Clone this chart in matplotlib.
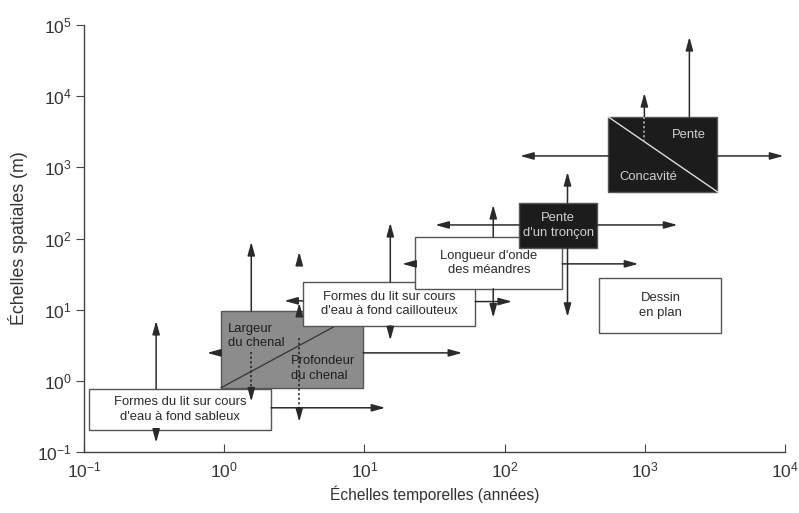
import matplotlib
matplotlib.use("Agg")
import matplotlib.pyplot as plt
from matplotlib.patches import Rectangle

plt.rcParams['font.family'] = ['Liberation Sans', 'DejaVu Sans']
plt.rcParams['mathtext.fontset'] = 'custom'
plt.rcParams['mathtext.rm'] = 'Liberation Sans'
plt.rcParams['mathtext.it'] = 'Liberation Sans:italic'

# boxes: time range (années) and space range (m)
box_labels = ["Formes du lit sur cours\nd'eau à fond sableux", "",
              "Formes du lit sur cours\nd'eau à fond caillouteux",
              "Longueur d'onde\ndes méandres", "Pente\nd'un tronçon", "",
              "Dessin\nen plan"]
box_t_min = [0.109, 0.95, 3.65, 23.1, 127, 550, 474]
box_t_max = [2.16, 9.8, 61.8, 258, 459, 3300, 3520]
box_s_min = [0.204, 0.8, 5.93, 19.6, 73.8, 452, 4.72]
box_s_max = [0.776, 9.6, 24.5, 105, 316, 5100, 28]
box_kind = ["white", "gray", "white", "white", "black", "black", "white"]

# arrows: start (t, s) -> end (t, s)
arr_t0 = [0.327, 0.327, 2.16, 1.56, 1.56, 3.43, 3.43, 3.43, 0.95, 9.8,
          3.65, 15.3, 15.3, 61.8,
          83, 83, 23.1, 258,
          281, 281, 127, 459,
          2080, 993, 550, 3300]
arr_s0 = [0.776, 0.204, 0.418, 9.6, 0.8, 0.32, 10.3, 50, 2.47, 2.47,
          13.3, 24.5, 5.93, 13.0,
          105, 19.6, 44, 44,
          316, 73.8, 155, 155,
          5100, 5100, 1445, 1445]
arr_t1 = [0.327, 0.327, 14.1, 1.56, 1.56, 3.43, 3.43, 3.43, 0.755, 49.9,
          2.68, 15.3, 15.3, 113,
          83, 83, 18.6, 900,
          281, 281, 32, 1710,
          2080, 993, 129, 9750]
arr_s1 = [6.97, 0.135, 0.418, 89.6, 0.51, 0.265, 12.5, 65, 2.47, 2.47,
          13.3, 166, 3.7, 13.0,
          297, 7.7, 44, 44,
          861, 7.9, 155, 155,
          68000, 11100, 1445, 1445]

# dotted links inside boxes
dot_t = [1.56, 3.43, 993]
dot_s0 = [2.55, 4.02, 2290]
dot_s1 = [0.8, 0.32, 5100]

fig = plt.figure(figsize=(7.99, 5.13), dpi=100)
ax = fig.add_axes([84 / 799, 1 - 452 / 513, 701 / 799, 427 / 513])
ax.set_xscale('log')
ax.set_yscale('log')
ax.set_xlim(0.1, 1e4)
ax.set_ylim(0.1, 1e5)

for sp in ['top', 'right']:
    ax.spines[sp].set_visible(False)
for sp in ['left', 'bottom']:
    ax.spines[sp].set_color('#444444')
    ax.spines[sp].set_linewidth(1.0)

ax.minorticks_off()
ax.tick_params(axis='x', direction='in', length=6, labelsize=12.5, pad=6, colors='#444444',
               labelcolor='#333333')
ax.tick_params(axis='y', direction='out', length=6, labelsize=12.5, pad=3, colors='#444444',
               labelcolor='#333333')
ax.set_xlabel("Échelles temporelles (années)", fontsize=11.2, color='#333333', labelpad=4)
ax.set_ylabel("Échelles spatiales (m)", fontsize=12.8, color='#333333', labelpad=6)

face = {"white": "white", "gray": "#8c8c8c", "black": "#1c1c1c"}
tcol = {"white": "#2a2a2a", "gray": "#1e1e1e", "black": "#d0d0d0"}
fs = 9.4

for i in range(len(arr_t0)):
    ax.annotate("", xy=(arr_t1[i], arr_s1[i]), xytext=(arr_t0[i], arr_s0[i]),
                arrowprops=dict(arrowstyle='-|>,head_length=0.8,head_width=0.22',
                                color='#2a2a2a', lw=1.1, shrinkA=0, shrinkB=0),
                zorder=12)

for i in range(len(box_labels)):
    x0, x1 = box_t_min[i], box_t_max[i]
    y0, y1 = box_s_min[i], box_s_max[i]
    k = box_kind[i]
    ax.add_patch(Rectangle((x0, y0), x1 - x0, y1 - y0, facecolor=face[k],
                           edgecolor='#555555', lw=1.0, zorder=3 + i))
    if i == 1:
        ax.plot([x0, x1], [y0, y1], color='#333333', lw=0.9, zorder=3 + i)
    if i == 5:
        ax.plot([x0, x1], [y1, y0], color='#dddddd', lw=1.0, zorder=3 + i)
    if box_labels[i]:
        xc = (x0 * x1) ** 0.5
        yc = (y0 * y1) ** 0.5
        ax.text(xc, yc, box_labels[i], ha='center', va='center', fontsize=fs,
                color=tcol[k], linespacing=1.3, zorder=20)

for i in range(len(dot_t)):
    ax.plot([dot_t[i], dot_t[i]], [dot_s0[i], dot_s1[i]], ls=(0, (1.5, 1.5)),
            color='#222222' if i < 2 else '#bbbbbb', lw=1.1, zorder=15)

ax.text(1.07, 4.28, "Largeur\ndu chenal", ha='left', va='center', fontsize=fs,
        color='#1e1e1e', linespacing=1.3, zorder=20)
ax.text(3.0, 1.48, "Profondeur\ndu chenal", ha='left', va='center', fontsize=fs,
        color='#1e1e1e', linespacing=1.3, zorder=20)
ax.text(2050, 2850, "Pente", ha='center', va='center', fontsize=fs,
        color='#d0d0d0', zorder=20)
ax.text(1060, 733, "Concavité", ha='center', va='center', fontsize=fs,
        color='#d0d0d0', zorder=20)

fig.savefig("out.png", dpi=100)
